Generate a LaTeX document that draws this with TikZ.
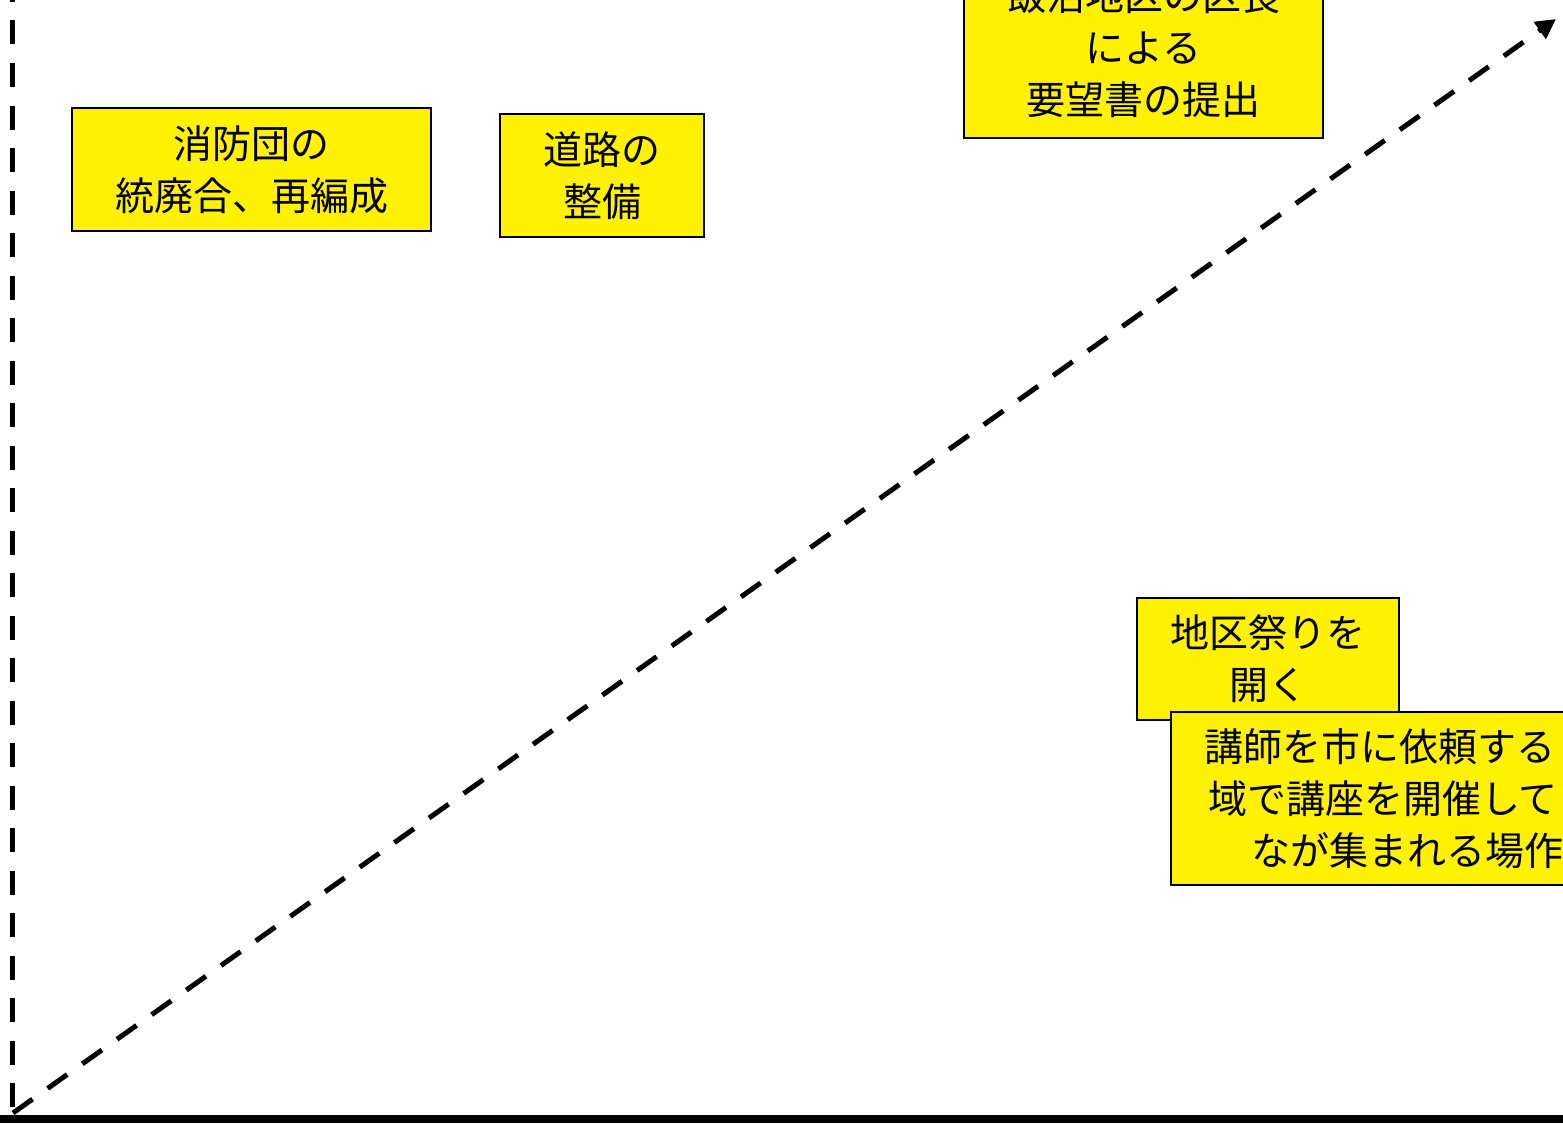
\documentclass[tikz,border=0pt]{standalone}
\usepackage{fontspec}
\newfontfamily\jpfont{Noto Sans CJK JP}
\usetikzlibrary{arrows.meta}
\begin{document}
\begin{tikzpicture}[x=1pt,y=-1pt,
  box/.style={draw=black, line width=2pt, fill=yellow, font=\jpfont\fontsize{39}{52}\selectfont, align=center, inner sep=0pt},
  axisdash/.style={line width=5pt, dash pattern=on 24pt off 18.5pt}]
\useasboundingbox (0,0) rectangle (1563,1124);
\clip (0,0) rectangle (1563,1124);
\fill[white] (0,0) rectangle (1563,1124);
% axes
\coordinate (ybot) at (12,1107);
\coordinate (ytop) at (12,-5);
\draw[axisdash] (ybot) -- (ytop);
\coordinate (xl) at (-10,1119);
\coordinate (xr) at (1580,1119);
\draw[line width=8pt] (xl) -- (xr);
\coordinate (o) at (13,1113);
\coordinate (tip) at (1556,19);
\draw[axisdash, -{Triangle[length=20pt,width=20pt]}] (o) -- (tip);
% boxes
\node[box, minimum width=359pt, minimum height=123pt] (shobo) at (251.5,169.5) {消防団の\\統廃合、再編成};
\node[box, minimum width=204pt, minimum height=123pt] (doro) at (602,175.5) {道路の\\整備};
\node[box, minimum width=359pt, minimum height=181pt] (yobo) at (1143.5,47.5) {飯沼地区の区長\\による\\要望書の提出};
\node[box, minimum width=262pt, minimum height=122pt] (matsuri) at (1268,659) {地区祭りを\\開く};
\node[box, anchor=north west, minimum height=173pt, text width=600pt, inner xsep=33pt, align=left] (koza) at (1170,711)
  {講師を市に依頼する\\\hspace*{4pt}域で講座を開催して\\\hspace*{47pt}なが集まれる場作};
\end{tikzpicture}
\end{document}
